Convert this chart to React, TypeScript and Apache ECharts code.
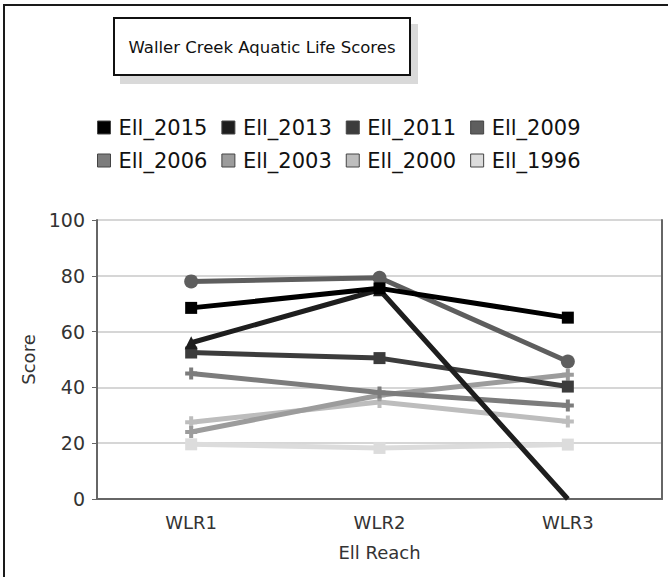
import React, { useEffect, useRef } from "react";
import * as echarts from "echarts";

const categories = ["WLR1", "WLR2", "WLR3"];
const seriesNames = ["Ell_2015", "Ell_2013", "Ell_2011", "Ell_2009", "Ell_2006", "Ell_2003", "Ell_2000", "Ell_1996"];
const ell2015 = [68.5, 75.5, 65];
const ell2013 = [56, 75, 0];
const ell2011 = [52.5, 50.5, 40.3];
const ell2009 = [78, 79.3, 49.3];
const ell2006 = [45, 38.2, 33.5];
const ell2003 = [24, 37.2, 44.5];
const ell2000 = [27.5, 34.8, 27.8];
const ell1996 = [19.6, 18.3, 19.5];
const yTicks = [0, 20, 40, 60, 80, 100];

const seriesValues = [ell2015, ell2013, ell2011, ell2009, ell2006, ell2003, ell2000, ell1996];
const colors = ["#000000", "#1e1e1e", "#3c3c3c", "#5e5e5e", "#7c7c7c", "#9c9c9c", "#bdbdbd", "#dcdcdc"];
const plus = "path://M4,0H8V4H12V8H8V12H4V8H0V4H4Z";
const symbols = ["rect", "triangle", "rect", "circle", plus, plus, plus, "rect"];
const symbolSizes = [12, 13, 12, 14, 12, 12, 12, 12];

export default function App() {
  const ref = useRef<HTMLDivElement>(null);
  useEffect(() => {
    if (!ref.current) return;
    const chart = echarts.init(ref.current, null, { renderer: "svg" });
    const font = "DejaVu Sans";
    const legendBase = {
      left: 97,
      orient: "horizontal",
      icon: "rect",
      itemWidth: 13,
      itemHeight: 13,
      itemGap: 14,
      padding: 0,
      itemStyle: { borderColor: "#444", borderWidth: 1 },
      textStyle: { fontFamily: font, fontSize: 21, color: "#111", padding: [0, 0, 0, 3] },
    };
    chart.setOption({
      animation: false,
      backgroundColor: "#ffffff",
      color: colors,
      textStyle: { fontFamily: font },
      graphic: [
        {
          type: "rect",
          shape: { x: 4, y: 5, width: 700, height: 620 },
          style: { fill: "none", stroke: "#1a1a1a", lineWidth: 2 },
          silent: true,
        },
        {
          type: "rect",
          shape: { x: 120, y: 24, width: 298, height: 60 },
          style: { fill: "#d9d9d9" },
          silent: true,
        },
        {
          type: "rect",
          shape: { x: 114, y: 18, width: 296, height: 57 },
          style: { fill: "#ffffff", stroke: "#111", lineWidth: 2 },
          silent: true,
        },
        {
          type: "text",
          x: 262,
          y: 47,
          style: {
            text: "Waller Creek Aquatic Life Scores",
            fontFamily: font,
            fontSize: 16.5,
            fill: "#111",
            align: "center",
            verticalAlign: "middle",
          },
          silent: true,
        },
      ],
      legend: [
        { ...legendBase, top: 117, data: seriesNames.slice(0, 4) },
        { ...legendBase, top: 150, data: seriesNames.slice(4, 8) },
      ],
      grid: { left: 97, right: 6, top: 220, bottom: 78, containLabel: false },
      xAxis: {
        type: "category",
        data: categories,
        boundaryGap: true,
        name: "Ell Reach",
        nameLocation: "middle",
        nameGap: 44,
        nameTextStyle: { fontFamily: font, fontSize: 18, color: "#333" },
        axisLine: { lineStyle: { color: "#666", width: 2 } },
        axisTick: { alignWithLabel: true, length: 5, lineStyle: { color: "#666", width: 1 } },
        axisLabel: { fontFamily: font, fontSize: 18, color: "#333", margin: 14 },
        splitLine: { show: false },
      },
      yAxis: [
        {
          type: "value",
          min: 0,
          max: 100,
          interval: 20,
          name: "Score",
          nameLocation: "middle",
          nameGap: 58,
          nameRotate: 90,
          nameTextStyle: { fontFamily: font, fontSize: 18, color: "#333" },
          axisLine: { show: true, lineStyle: { color: "#666", width: 2 } },
          axisTick: { show: true, length: 5, lineStyle: { color: "#666" } },
          axisLabel: {
            fontFamily: font,
            fontSize: 19,
            color: "#333",
            margin: 12,
            formatter: (v: number) => (yTicks.includes(v) ? String(v) : ""),
          },
          splitLine: { show: true, lineStyle: { color: "#c8c8c8", width: 1.5 } },
        },
        {
          type: "value",
          min: 0,
          max: 100,
          interval: 20,
          position: "right",
          axisLine: { show: true, lineStyle: { color: "#666", width: 2 } },
          axisTick: { show: false },
          axisLabel: { show: false },
          splitLine: { show: false },
        },
      ],
      series: seriesNames.map((name, i) => ({
        name,
        type: "line",
        data: seriesValues[i],
        yAxisIndex: 0,
        z: 20 - i,
        symbol: symbols[i],
        symbolSize: (v: number) => (v <= 0 ? 0 : symbolSizes[i]),
        showAllSymbol: true,
        lineStyle: { color: colors[i], width: 5 },
        itemStyle: { color: colors[i] },
        emphasis: { disabled: true },
      })),
    });
    return () => chart.dispose();
  }, []);
  return (
    <div
      ref={ref}
      style={{ position: "absolute", left: 0, top: 0, width: 668, height: 577, background: "#fff" }}
    />
  );
}
